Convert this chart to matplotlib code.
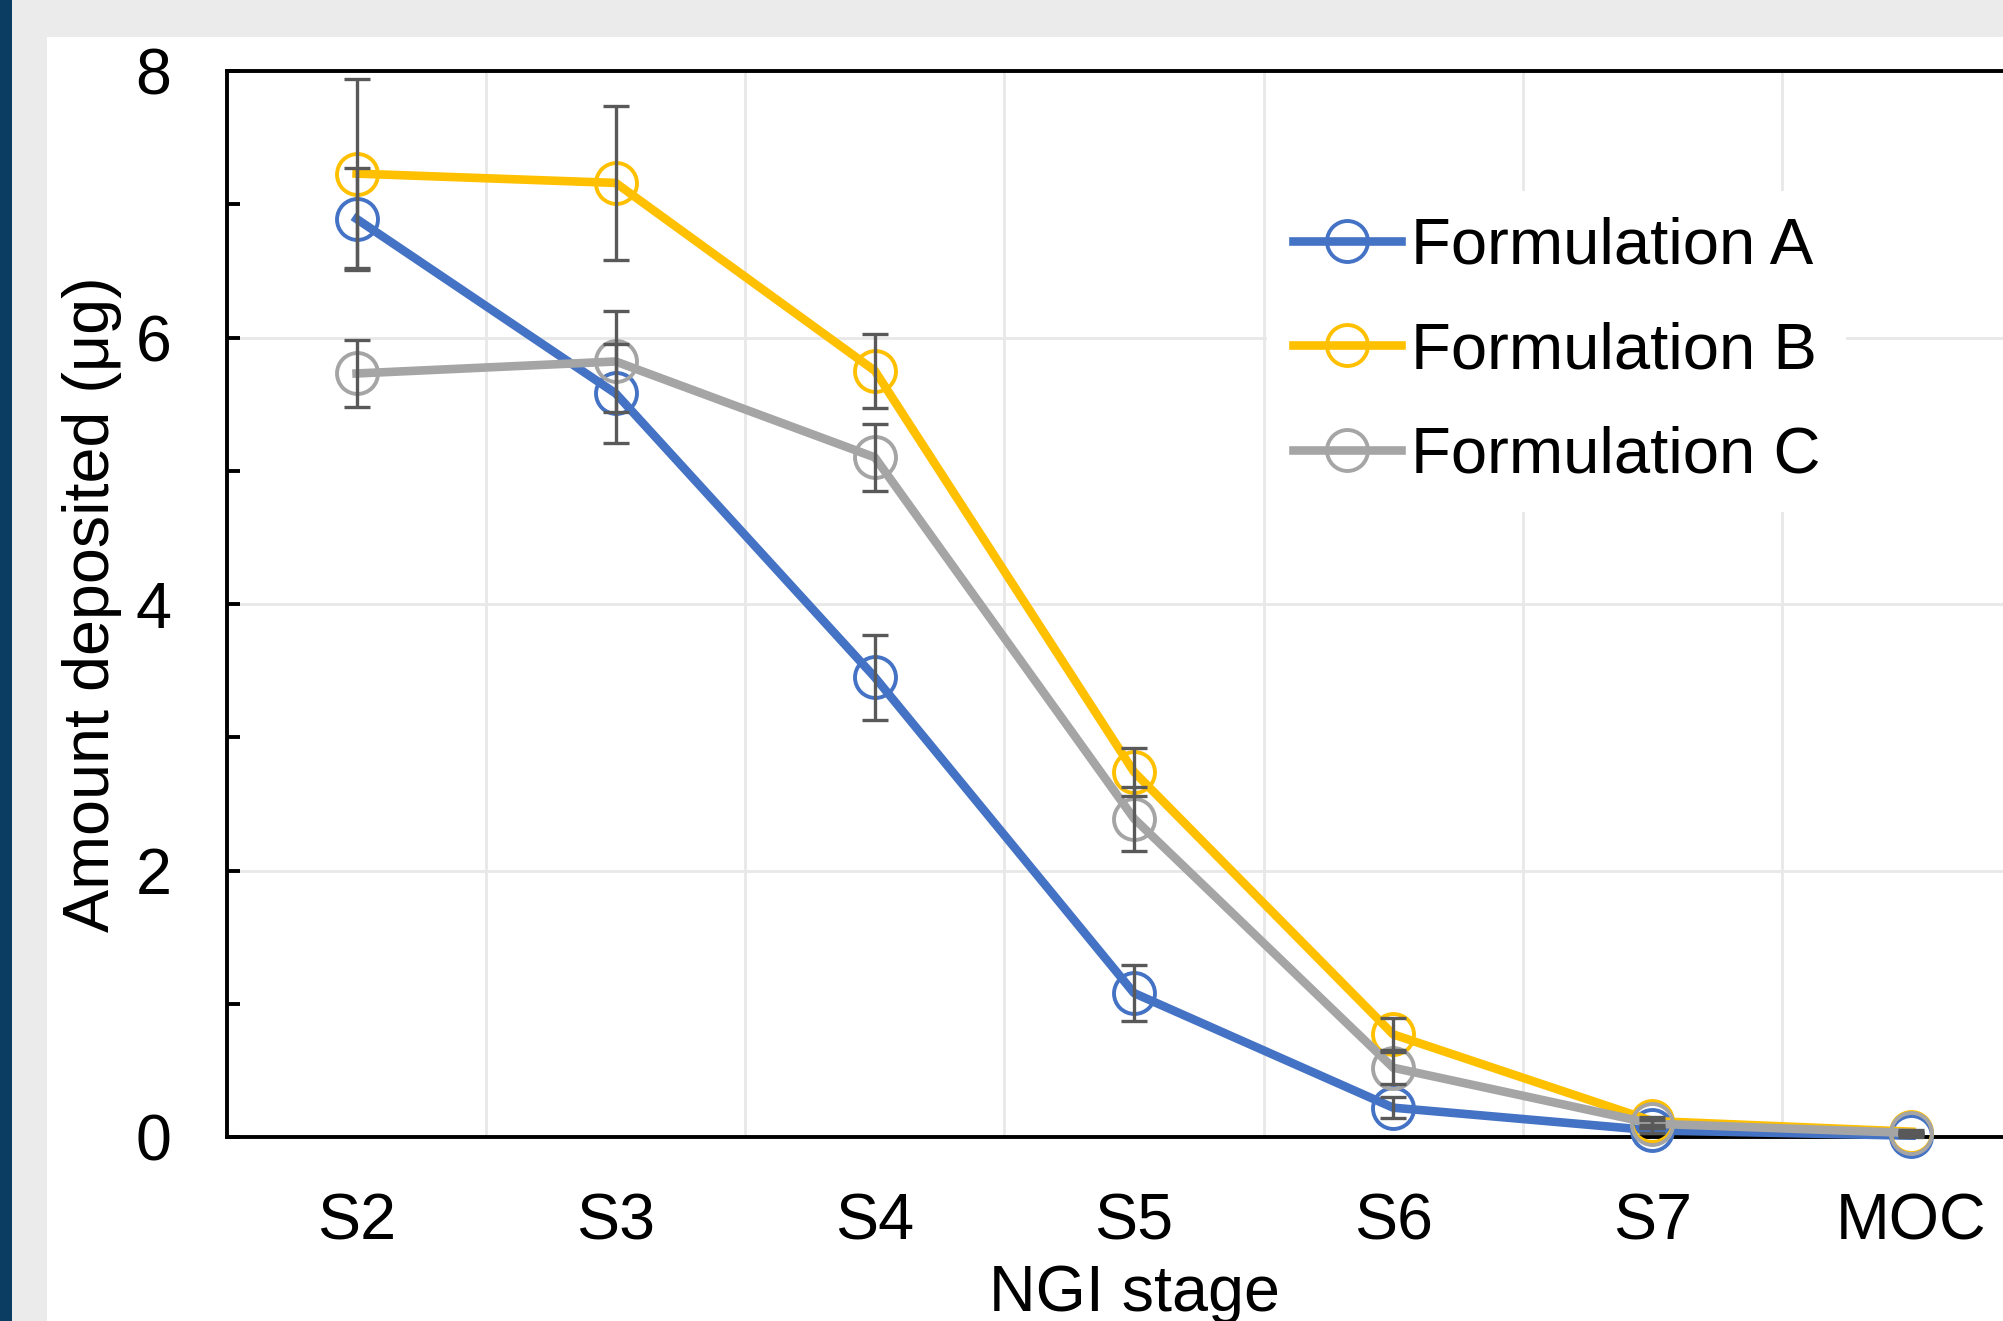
import matplotlib
matplotlib.use('Agg')
import matplotlib.pyplot as plt
from matplotlib.patches import Rectangle
from matplotlib.ticker import MultipleLocator
import numpy as np

# ---------------- data ----------------
stages = ['S2', 'S3', 'S4', 'S5', 'S6', 'S7', 'MOC']
series_names = ['Formulation A', 'Formulation B', 'Formulation C']
form_a = [6.89, 5.58, 3.45, 1.08, 0.22, 0.05, 0.01]
form_a_err = [0.38, 0.37, 0.32, 0.21, 0.08, 0.02, 0.01]
form_b = [7.23, 7.16, 5.75, 2.74, 0.77, 0.12, 0.04]
form_b_err = [0.71, 0.58, 0.28, 0.18, 0.12, 0.03, 0.01]
form_c = [5.73, 5.82, 5.10, 2.39, 0.52, 0.10, 0.03]
form_c_err = [0.25, 0.38, 0.25, 0.24, 0.12, 0.03, 0.01]
y_ticks = [0, 2, 4, 6, 8]
x_label = 'NGI stage'
y_label = 'Amount deposited (μg)'

colors = ['#4472C4', '#FFC000', '#A5A5A5']
err_color = '#595959'

plt.rcParams['font.family'] = ['Liberation Sans', 'DejaVu Sans']
FS = 46.5
LFS = 47

W, H = 2003, 1321
DPI = 100
fig = plt.figure(figsize=(W / DPI, H / DPI), dpi=DPI, facecolor='#EBEBEB')
# white panel and dark left band (screenshot frame)
fig.add_artist(Rectangle((47 / W, 0), 1 - 47 / W, (H - 37) / H,
                         transform=fig.transFigure, facecolor='white',
                         edgecolor='none', zorder=-10))
fig.add_artist(Rectangle((0, 0), 12 / W, 1, transform=fig.transFigure,
                         facecolor='#0B3C62', edgecolor='none', zorder=-9))

left_px, right_px, top_px, bot_px = 227, 2041, 71, 1137
ax = fig.add_axes([left_px / W, (H - bot_px) / H,
                   (right_px - left_px) / W, (bot_px - top_px) / H])
ax.set_facecolor('white')
ax.set_zorder(1)

x = np.arange(len(stages))
all_vals = [form_a, form_b, form_c]
all_errs = [form_a_err, form_b_err, form_c_err]

for i, (vals, col, name) in enumerate(zip(all_vals, colors, series_names)):
    ax.plot(x, vals, color=col, lw=6.2, marker='o', ms=29.5, mfc='none',
            mec=col, mew=2.8, label=name, zorder=3 + i, clip_on=False)

for vals, errs in zip(all_vals, all_errs):
    ax.errorbar(x, vals, yerr=errs, fmt='none', ecolor=err_color,
                elinewidth=2.4, capsize=9.4, capthick=2.4, zorder=7,
                clip_on=False)

ax.set_xlim(-0.5, len(stages) - 0.5)
ax.set_ylim(0, 8)
ax.set_xticks(x)
ax.set_xticklabels(stages, fontsize=FS)
ax.set_xticks(np.arange(0.5, len(stages) - 0.5, 1), minor=True)
ax.set_yticks(y_ticks)
ax.set_yticklabels([str(v) for v in y_ticks], fontsize=FS)
ax.yaxis.set_minor_locator(MultipleLocator(1))

ax.tick_params(axis='x', which='both', length=0, pad=40)
ax.tick_params(axis='y', which='both', direction='in', length=9.4,
               width=2.8, pad=40, right=False)

ax.grid(which='minor', axis='x', color='#E8E8E8', lw=2.0, zorder=0)
ax.grid(which='major', axis='y', color='#E8E8E8', lw=2.0, zorder=0)
ax.set_axisbelow(True)

for s in ['top', 'left', 'bottom']:
    ax.spines[s].set_color('black')
    ax.spines[s].set_linewidth(2.8)
ax.spines['right'].set_visible(False)

ax.set_xlabel(x_label, fontsize=FS)
ax.xaxis.set_label_coords(0.5, -0.119)
ax.set_ylabel(y_label, fontsize=FS)
ax.yaxis.set_label_coords(-0.058, 0.5)

leg = ax.legend(loc='center left', bbox_to_anchor=(1267 / W, 1 - 351 / H),
                bbox_transform=fig.transFigure, frameon=True,
                facecolor='white', edgecolor='none', framealpha=1,
                fancybox=False, fontsize=LFS, handlelength=1.65,
                handletextpad=0.15, labelspacing=0.68, borderaxespad=0,
                borderpad=0.4)
leg.set_zorder(20)

fig.savefig('out.png', dpi=DPI, facecolor=fig.get_facecolor())
